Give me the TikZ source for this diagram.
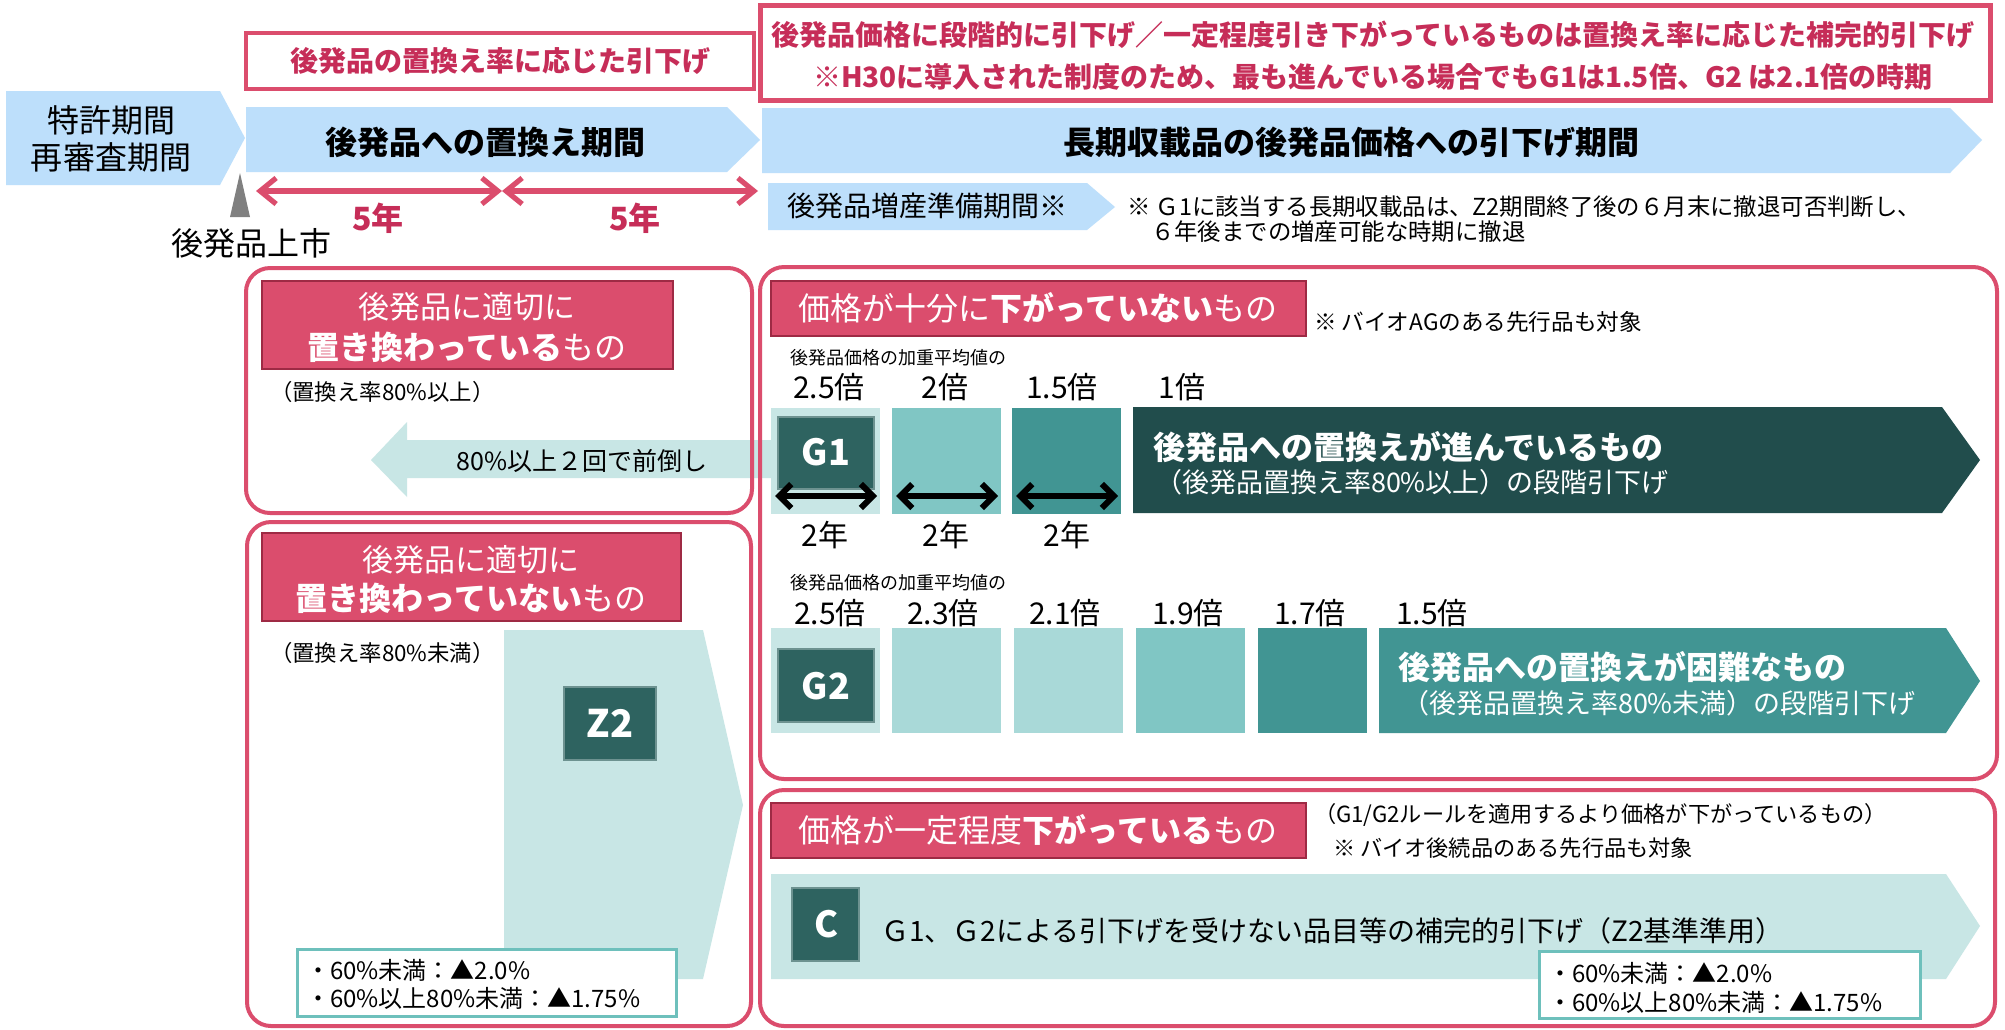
\documentclass[tikz,border=0pt]{standalone}
\usepackage{fontspec}
\setmainfont{Noto Sans CJK JP}
\usetikzlibrary{arrows.meta}
\definecolor{pk}{HTML}{DB4D6D}
\definecolor{pkd}{HTML}{9E2A44}
\definecolor{pktext}{HTML}{C62D58}
\definecolor{lb}{HTML}{BDDFFB}
\definecolor{tA}{HTML}{C8E6E5}
\definecolor{tB}{HTML}{A9D9D8}
\definecolor{tC}{HTML}{80C6C4}
\definecolor{tD}{HTML}{419593}
\definecolor{tE}{HTML}{214D4C}
\definecolor{tbox}{HTML}{2E6360}
\definecolor{nb}{HTML}{6EC0BC}
\definecolor{gr}{HTML}{808080}
\newcommand\fsz[1]{\fontsize{#1pt}{#1pt}\selectfont}
\begin{document}
\begin{tikzpicture}[x=0.5pt,y=-0.5pt,every node/.style={inner sep=0pt,outer sep=0pt}]
\tikzset{
  pkframe/.style={draw=pk,line width=2pt,rounded corners=12pt},
  lblbox/.style={fill=pk,draw=pkd,line width=0.8pt},
  gbox/.style={fill=tbox,draw=tbox!70!white,line width=0.6pt},
  notebox/.style={fill=white,draw=nb,line width=1.5pt},
  pkarrow/.style={draw=pk,line width=2.6pt,{Straight Barb[length=8pt,width=13pt]}-{Straight Barb[length=8pt,width=13pt]}},
  bkarrow/.style={draw=black,line width=3pt,{Straight Barb[length=6pt,width=12pt]}-{Straight Barb[length=6pt,width=12pt]}},
  wtxt/.style={text=white},
}
\useasboundingbox (0,0) rectangle (2005,1029);
\fill[white] (0,0) rectangle (2005,1029);

% ---- top header ----
\draw[draw=pk,line width=2pt] (246,33) rectangle (754,89);
\node[text=pktext,font=\fsz{14}\bfseries] (t1) at (500,61) {後発品の置換え率に応じた引下げ};
\draw[draw=pk,line width=2.5pt] (760,5) rectangle (1990,100);
\node[text=pktext,font=\fsz{14}\bfseries] (t2a) at (1373,35) {後発品価格に段階的に引下げ／一定程度引き下がっているものは置換え率に応じた補完的引下げ};
\node[text=pktext,font=\fsz{14}\bfseries] (t2b) at (1373,77) {※H30に導入された制度のため、最も進んでいる場合でもG1は1.5倍、G2 は2.1倍の時期};

% ---- period arrows ----
\fill[lb] (6,91) -- (220,91) -- (245,138) -- (220,185) -- (6,185) -- cycle;
\node[font=\fsz{16}] (p1a) at (111,120) {特許期間};
\node[font=\fsz{16}] (p1b) at (111,157) {再審査期間};
\fill[lb] (246,107) -- (727,107) -- (760,140) -- (727,172) -- (246,172) -- cycle;
\node[font=\fsz{16}\bfseries] (p2) at (485,142) {後発品への置換え期間};
\fill[lb] (762,108) -- (1950,108) -- (1982,140) -- (1950,173) -- (762,173) -- cycle;
\node[font=\fsz{16}\bfseries] (p3) at (1351,142) {長期収載品の後発品価格への引下げ期間};

\fill[gr] (240,173) -- (250,217) -- (230,217) -- cycle;
\node[font=\fsz{16}] (launch) at (251,243) {後発品上市};

\coordinate (y0) at (256,191);
\coordinate (y5) at (502,191);
\coordinate (y10) at (758,191);
\draw[pkarrow] (y0) -- (y5);
\draw[pkarrow] (y5) -- (y10);
\node[text=pktext,font=\fsz{16}\bfseries] (n5a) at (378,218) {5年};
\node[text=pktext,font=\fsz{16}\bfseries] (n5b) at (635,218) {5年};

\fill[lb] (768,183) -- (1087,183) -- (1115,207) -- (1087,230) -- (768,230) -- cycle;
\node[font=\fsz{14}] (prep) at (927,206) {後発品増産準備期間※};
\node[anchor=west,font=\fsz{11.7}] (note1) at (1127,207) {※ Ｇ1に該当する長期収載品は、Z2期間終了後の６月末に撤退可否判断し、};
\node[anchor=west,font=\fsz{11.7}] (note2) at (1151,232) {６年後までの増産可能な時期に撤退};

% ---- left arrow (80%) ----
\fill[tA] (371,460) -- (407,422) -- (407,440) -- (775,440) -- (775,478) -- (407,478) -- (407,497) -- cycle;
\node[font=\fsz{12.5}] (fwd) at (582,461) {80\%以上２回で前倒し};

% ---- upper left frame ----
\draw[pkframe] (246,268) rectangle (752,513);
\draw[lblbox] (262,281) rectangle (673,369);
\node[wtxt,font=\fsz{15.5}] (L1a) at (467,307) {後発品に適切に};
\node[wtxt,font=\fsz{16}] (L1b) at (467,347) {{\bfseries 置き換わっている}もの};
\node[anchor=west,font=\fsz{11.2}] (L1c) at (270,392) {（置換え率80\%以上）};

% ---- lower left frame ----
\fill[tA] (504,630) -- (703,630) -- (743,805) -- (703,979) -- (504,979) -- cycle;
\draw[pkframe] (247,522) rectangle (751,1026);
\draw[lblbox] (262,533) rectangle (681,621);
\node[wtxt,font=\fsz{15.5}] (L2a) at (471,560) {後発品に適切に};
\node[wtxt,font=\fsz{16}] (L2b) at (471,598) {{\bfseries 置き換わっていない}もの};
\node[anchor=west,font=\fsz{11.2}] (L2c) at (270,653) {（置換え率80\%未満）};
\draw[gbox] (564,687) rectangle (656,760);
\node[wtxt,font=\fsz{19}\bfseries] (Z2) at (610,723) {Z2};
\draw[notebox] (297,949) rectangle (676,1016);
\node[anchor=west,font=\fsz{12}] (zn1) at (306,970) {・60\%未満：▲2.0\%};
\node[anchor=west,font=\fsz{12}] (zn2) at (306,998) {・60\%以上80\%未満：▲1.75\%};

% ---- upper right frame ----
\draw[pkframe] (760,267) rectangle (1997,779);
\draw[lblbox] (771,281) rectangle (1306,336);
\node[wtxt,font=\fsz{16}] (R1) at (1038,308) {価格が十分に{\bfseries 下がっていない}もの};
\node[anchor=west,font=\fsz{11.3}] (R1n) at (1314,322) {※ バイオAGのある先行品も対象};
\node[anchor=west,font=\fsz{9}] (w1) at (790,358) {後発品価格の加重平均値の};
\foreach \xx/\tt in {829/2.5倍,945/2倍,1062/1.5倍,1182/1倍}
  \node[font=\fsz{15}] at (\xx,387) {\tt};
\fill[tA] (771,408) rectangle (880,514);
\fill[tC] (892,408) rectangle (1001,514);
\fill[tD] (1012,408) rectangle (1121,514);
\fill[tE] (1133,407) -- (1942,407) -- (1980,460) -- (1942,513) -- (1133,513) -- cycle;
\draw[gbox] (778,417) rectangle (874,489);
\node[wtxt,font=\fsz{18}\bfseries] (G1) at (826,452) {G1};
\coordinate (a0) at (775,496); \coordinate (a1) at (877,496);
\coordinate (b0) at (896,496); \coordinate (b1) at (998,496);
\coordinate (c0) at (1016,496); \coordinate (c1) at (1118,496);
\draw[bkarrow] (a0) -- (a1);
\draw[bkarrow] (b0) -- (b1);
\draw[bkarrow] (c0) -- (c1);
\foreach \xx in {825,946,1067}
  \node[font=\fsz{15}] at (\xx,535) {2年};
\node[anchor=west,wtxt,font=\fsz{16}\bfseries] (G1a) at (1153,447) {後発品への置換えが進んでいるもの};
\node[anchor=west,wtxt,font=\fsz{13.5}] (G1b) at (1155,482) {（後発品置換え率80\%以上）の段階引下げ};

\node[anchor=west,font=\fsz{9}] (w2) at (790,583) {後発品価格の加重平均値の};
\foreach \xx/\tt in {830/2.5倍,943/2.3倍,1065/2.1倍,1188/1.9倍,1310/1.7倍,1432/1.5倍}
  \node[font=\fsz{15}] at (\xx,613) {\tt};
\fill[tA] (771,628) rectangle (880,733);
\fill[tB] (892,628) rectangle (1001,733);
\fill[tB] (1014,628) rectangle (1123,733);
\fill[tC] (1136,628) rectangle (1245,733);
\fill[tD] (1258,628) rectangle (1367,733);
\fill[tD] (1379,628) -- (1946,628) -- (1980,681) -- (1946,733) -- (1379,733) -- cycle;
\draw[gbox] (778,649) rectangle (874,722);
\node[wtxt,font=\fsz{18}\bfseries] (G2) at (826,686) {G2};
\node[anchor=west,wtxt,font=\fsz{16}\bfseries] (G2a) at (1398,667) {後発品への置換えが困難なもの};
\node[anchor=west,wtxt,font=\fsz{13.5}] (G2b) at (1402,703) {（後発品置換え率80\%未満）の段階引下げ};

% ---- lower right frame ----
\draw[pkframe] (760,790) rectangle (1995,1026);
\draw[lblbox] (771,803) rectangle (1306,858);
\node[wtxt,font=\fsz{16}] (R2) at (1038,830) {価格が一定程度{\bfseries 下がっている}もの};
\node[anchor=west,font=\fsz{11.1}] (R2n1) at (1314,815) {（G1/G2ルールを適用するより価格が下がっているもの）};
\node[anchor=west,font=\fsz{11.1}] (R2n2) at (1333,848) {※ バイオ後続品のある先行品も対象};
\fill[tA] (771,874) -- (1946,874) -- (1980,926) -- (1946,979) -- (771,979) -- cycle;
\draw[gbox] (792,888) rectangle (859,961);
\node[wtxt,font=\fsz{18}\bfseries] (C) at (826,924) {C};
\node[anchor=west,font=\fsz{14}] (Ct) at (881,931) {Ｇ1、Ｇ2による引下げを受けない品目等の補完的引下げ（Z2基準準用）};
\draw[notebox] (1539,951) rectangle (1920,1018);
\node[anchor=west,font=\fsz{12}] (cn1) at (1548,973) {・60\%未満：▲2.0\%};
\node[anchor=west,font=\fsz{12}] (cn2) at (1548,1002) {・60\%以上80\%未満：▲1.75\%};
\end{tikzpicture}
\end{document}
